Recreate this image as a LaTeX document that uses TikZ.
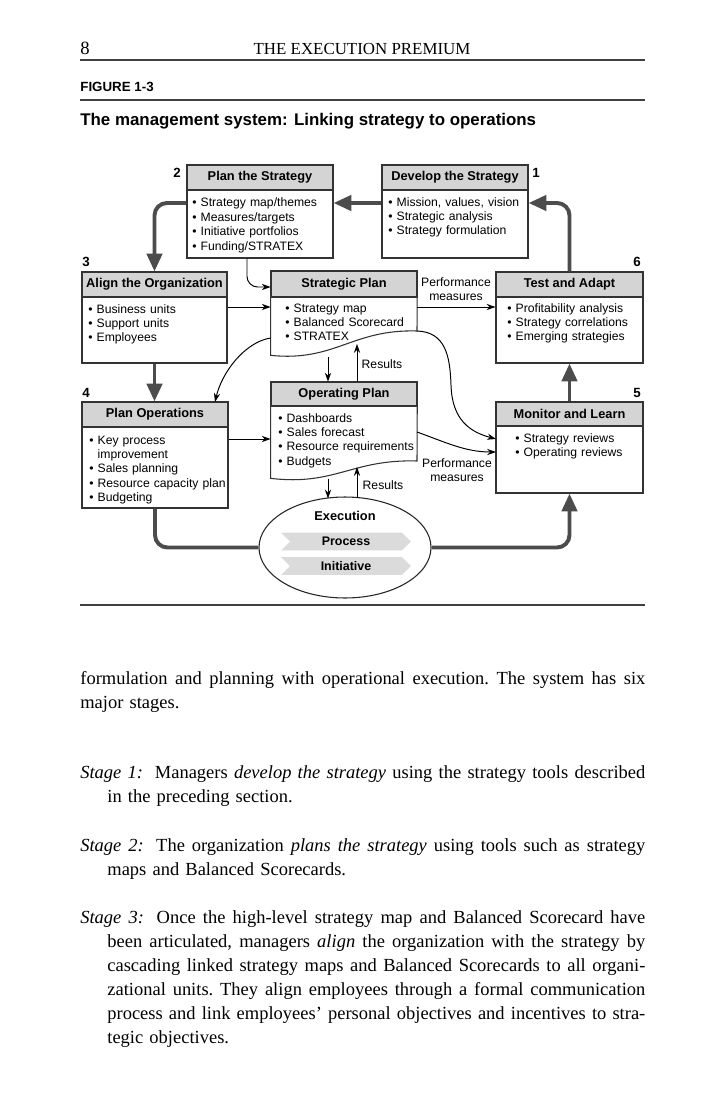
\documentclass[tikz,border=0pt]{standalone}
\usepackage{fontspec}
\setmainfont{Liberation Serif}
\setsansfont{Liberation Sans}
\usetikzlibrary{arrows.meta,shapes.geometric,shapes.symbols,fit}

\newcommand\dgfont{\sffamily\fontsize{6.85}{8.1}\selectfont}
\newcommand\hdfont{\sffamily\bfseries\fontsize{7.2}{8}\selectfont}
\newcommand\bodyfont{\rmfamily\fontsize{10.4}{13.5}\selectfont\frenchspacing}
\newcommand\jl[2]{\hbox to #1{\spaceskip=0.25em plus 1em minus 0.06em\relax #2}}

\begin{document}
\begin{tikzpicture}[x=0.5625pt,y=-0.5625pt,
  frame/.style={draw=black!80, line width=0.6pt, inner sep=0pt},
  hdr/.style={fill=black!17, draw=black!80, line width=0.6pt, inner sep=0pt, font=\hdfont},
  blist/.style={anchor=base west, inner sep=0pt, align=left, text width=88pt, font=\dgfont},
  stagenum/.style={font=\sffamily\bfseries\fontsize{7.5}{8}\selectfont, inner sep=0pt},
  bigarrow/.style={draw=black!70, line width=2.2pt, -{Triangle[length=10pt,width=8.5pt]}, rounded corners=7pt},
  bigline/.style={draw=black!70, line width=2.2pt, rounded corners=7pt},
  smallarrow/.style={draw=black, line width=0.55pt, -{Stealth[length=5pt,width=3.5pt]}},
  lbl/.style={font=\dgfont, align=center, inner sep=0pt},
  banner/.style={signal, signal to=east, signal from=west, fill=black!14, minimum width=73pt, minimum height=10pt, inner sep=0pt, font=\sffamily\bfseries\fontsize{7}{8}\selectfont},
  rule/.style={draw=black!75, line width=0.8pt},
  para/.style={anchor=base west, inner sep=0pt, align=left, text width=320pt, font=\bodyfont},
]
\useasboundingbox (0,0) rectangle (700,1108);
\fill[white] (0,0) rectangle (700,1108);

% ---------- page head ----------
\node[anchor=base west, inner sep=0pt, font=\rmfamily\fontsize{10.5}{12}\selectfont] (pg) at (80,55) {8};
\node[anchor=base, inner sep=0pt, font=\rmfamily\fontsize{9.5}{12}\selectfont] (rh) at (362,55) {THE EXECUTION PREMIUM};
\draw[rule] (80,60) -- (645,60);
\node[anchor=base west, inner sep=0pt, font=\sffamily\bfseries\fontsize{7.5}{9}\selectfont] (fig) at (80,92) {FIGURE 1-3};
\draw[rule] (80,100) -- (645,100);
\node[anchor=base west, inner sep=0pt, font=\sffamily\bfseries\fontsize{9.5}{11}\selectfont] (ttl) at (80,126) {The management system: Linking strategy to operations};
\draw[rule] (80,605) -- (645,605);

% ---------- helper levels ----------
\coordinate (L203) at (0,203);
\coordinate (L287) at (0,287);
\coordinate (L307) at (0,307);
\coordinate (L338) at (0,338);
\coordinate (L439) at (0,439);
\coordinate (X247) at (247,0);

% ---------- boxes ----------
% Develop the Strategy
\node[frame, fit={(382,165) (528,258)}] (ds) {};
\node[hdr, fit={(382,165) (528,190)}] (dsh) {};
\node[font=\hdfont, inner sep=0pt] at (dsh.center) {Develop the Strategy};
\node[blist] (dsl) at (388,206) {• Mission, values, vision\\• Strategic analysis\\• Strategy formulation};
\node[stagenum] (n1) at (536,173) {1};

% Plan the Strategy
\node[frame, fit={(187,165) (333,258)}] (ps) {};
\node[hdr, fit={(187,165) (333,190)}] (psh) {};
\node[font=\hdfont, inner sep=0pt] at (psh.center) {Plan the Strategy};
\node[blist] (psl) at (192,207) {• Strategy map/themes\\• Measures/targets\\• Initiative portfolios\\• Funding/STRATEX};
\node[stagenum] (n2) at (177,173) {2};

% Align the Organization
\node[frame, fit={(82,272) (227,363)}] (ao) {};
\node[hdr, fit={(82,272) (227,297)}] (aoh) {};
\node[font=\hdfont, inner sep=0pt] at (aoh.center) {Align the Organization};
\node[blist] (aol) at (88,313) {• Business units\\• Support units\\• Employees};
\node[stagenum] (n3) at (86,262) {3};

% Strategic Plan (wavy bottom)
\node[inner sep=0pt, fit={(271,271) (417,355)}] (sp) {};
\draw[draw=black!80, line width=0.6pt] (sp.north west) -- (sp.north east) -- (417,331)
  .. controls (352,329) and (335,362) .. (sp.south west) -- cycle;
\node[hdr, fit={(271,271) (417,297)}] (sph) {};
\node[font=\hdfont, inner sep=0pt] at (sph.center) {Strategic Plan};
\node[blist] (spl) at (285,312) {• Strategy map\\• Balanced Scorecard\\• STRATEX};

% Test and Adapt
\node[frame, fit={(496,272) (643,363)}] (ta) {};
\node[hdr, fit={(496,272) (643,297)}] (tah) {};
\node[font=\hdfont, inner sep=0pt] at (tah.center) {Test and Adapt};
\node[blist] (tal) at (507,312) {• Profitability analysis\\• Strategy correlations\\• Emerging strategies};
\node[stagenum] (n6) at (637,262) {6};

% Plan Operations
\node[frame, fit={(82,402) (228,508)}] (po) {};
\node[hdr, fit={(82,402) (228,427)}] (poh) {};
\node[font=\hdfont, inner sep=0pt] at (poh.center) {Plan Operations};
\node[blist] (pol) at (89,444) {• Key process\\\phantom{• }improvement\\• Sales planning\\• Resource capacity plan\\• Budgeting};
\node[stagenum] (n4) at (86,393) {4};

% Operating Plan (wavy bottom)
\node[inner sep=0pt, fit={(271,382) (417,478)}] (op) {};
\draw[draw=black!80, line width=0.6pt] (op.north west) -- (op.north east) -- (417,461)
  .. controls (352,459) and (335,486) .. (op.south west) -- cycle;
\node[hdr, fit={(271,382) (417,406)}] (oph) {};
\node[font=\hdfont, inner sep=0pt] at (oph.center) {Operating Plan};
\node[blist] (opl) at (278,422) {• Dashboards\\• Sales forecast\\• Resource requirements\\• Budgets};

% Monitor and Learn
\node[frame, fit={(496,402) (643,493)}] (ml) {};
\node[hdr, fit={(496,402) (643,426)}] (mlh) {};
\node[font=\hdfont, inner sep=0pt] at (mlh.center) {Monitor and Learn};
\node[blist] (mll) at (515,442) {• Strategy reviews\\• Operating reviews};
\node[stagenum] (n5) at (637,393) {5};

% Execution
\node[ellipse, draw=black!85, line width=0.6pt, minimum width=96.75pt, minimum height=56.8pt, inner sep=0pt] (ex) at (345,547.5) {};
\node[font=\hdfont, inner sep=0pt] (exl) at (345,516) {Execution};
\node[banner] (proc) at (346,541.5) {Process};
\node[banner] (init) at (346,566) {Initiative};

% ---------- thick connectors ----------
\draw[bigarrow] (ds.west |- L203) -- (ps.east |- L203);
\draw[bigarrow] (ps.west |- L203) -| (ao.north);
\draw[bigarrow] (ao.south) -- (ao.south |- po.north);
\draw[bigline] (po.south) |- (ex.west);
\draw[bigarrow] (ex.east) -| (ml.south);
\draw[bigarrow] (ml.north) -- (ml.north |- ta.south);
\draw[bigarrow] (ta.north) |- (ds.east |- L203);

% ---------- thin connectors ----------
\coordinate (spb1) at (328,357);
\coordinate (spb2) at (357,344);
\coordinate (opb1) at (328,478.5);
\coordinate (opb2) at (357,467);
\coordinate (ex1) at (328,498.5);
\coordinate (ex2) at (357,498);
\coordinate (spr) at (417,331);
\coordinate (opr) at (417,432);
\coordinate (mlin1) at (496,439);
\coordinate (mlin2) at (496,452);

\draw[smallarrow, rounded corners=6pt] (ps.south -| X247) |- (sp.west |- L287);
\draw[smallarrow] (ao.east |- L307) -- (sp.west |- L307);
\draw[smallarrow] (sp.east |- L307) -- (ta.west |- L307);
\draw[smallarrow] (sp.west |- L338) .. controls (245,342) and (222,372) .. (215,402);
\draw[smallarrow] (spr) .. controls (445,332) and (450,355) .. (451,385) .. controls (452,420) and (470,432) .. (mlin1);
\draw[smallarrow] (opr) .. controls (445,442) and (465,452) .. (mlin2);
\draw[smallarrow] (po.east |- L439) -- (op.west |- L439);
\draw[smallarrow] (spb1) -- (op.north -| spb1);
\draw[smallarrow] (op.north -| spb2) -- (spb2);
\draw[smallarrow] (opb1) -- (ex1);
\draw[smallarrow] (ex2) -- (opb2);

% ---------- connector labels ----------
\node[lbl] (pm1) at (456,289) {Performance\\measures};
\node[lbl] (pm2) at (457,470) {Performance\\measures};
\node[lbl] (rs1) at (382,364) {Results};
\node[lbl] (rs2) at (383,485) {Results};

% ---------- body text ----------
\node[para] (p0) at (80,684)
{\jl{317.8pt}{formulation and planning with operational execution. The system has six}\\
major stages.};
\node[para] (p1) at (80,778)
{\jl{317.8pt}{\textit{Stage 1:}\hspace{0.3em} Managers \textit{develop the strategy} using the strategy tools described}\\
\hspace*{15.2pt}in the preceding section.};
\node[para] (p2) at (80,851)
{\jl{317.8pt}{\textit{Stage 2:}\hspace{0.3em} The organization \textit{plans the strategy} using tools such as strategy}\\
\hspace*{15.2pt}maps and Balanced Scorecards.};
\node[para] (p3) at (80,923)
{\jl{317.8pt}{\textit{Stage 3:}\hspace{0.3em} Once the high-level strategy map and Balanced Scorecard have}\\
\hspace*{15.2pt}\jl{302.6pt}{been articulated, managers \textit{align} the organization with the strategy by}\\
\hspace*{15.2pt}\jl{302.6pt}{cascading linked strategy maps and Balanced Scorecards to all organi-}\\
\hspace*{15.2pt}\jl{302.6pt}{zational units. They align employees through a formal communication}\\
\hspace*{15.2pt}\jl{302.6pt}{process and link employees’ personal objectives and incentives to stra-}\\
\hspace*{15.2pt}tegic objectives.};
\end{tikzpicture}
\end{document}
